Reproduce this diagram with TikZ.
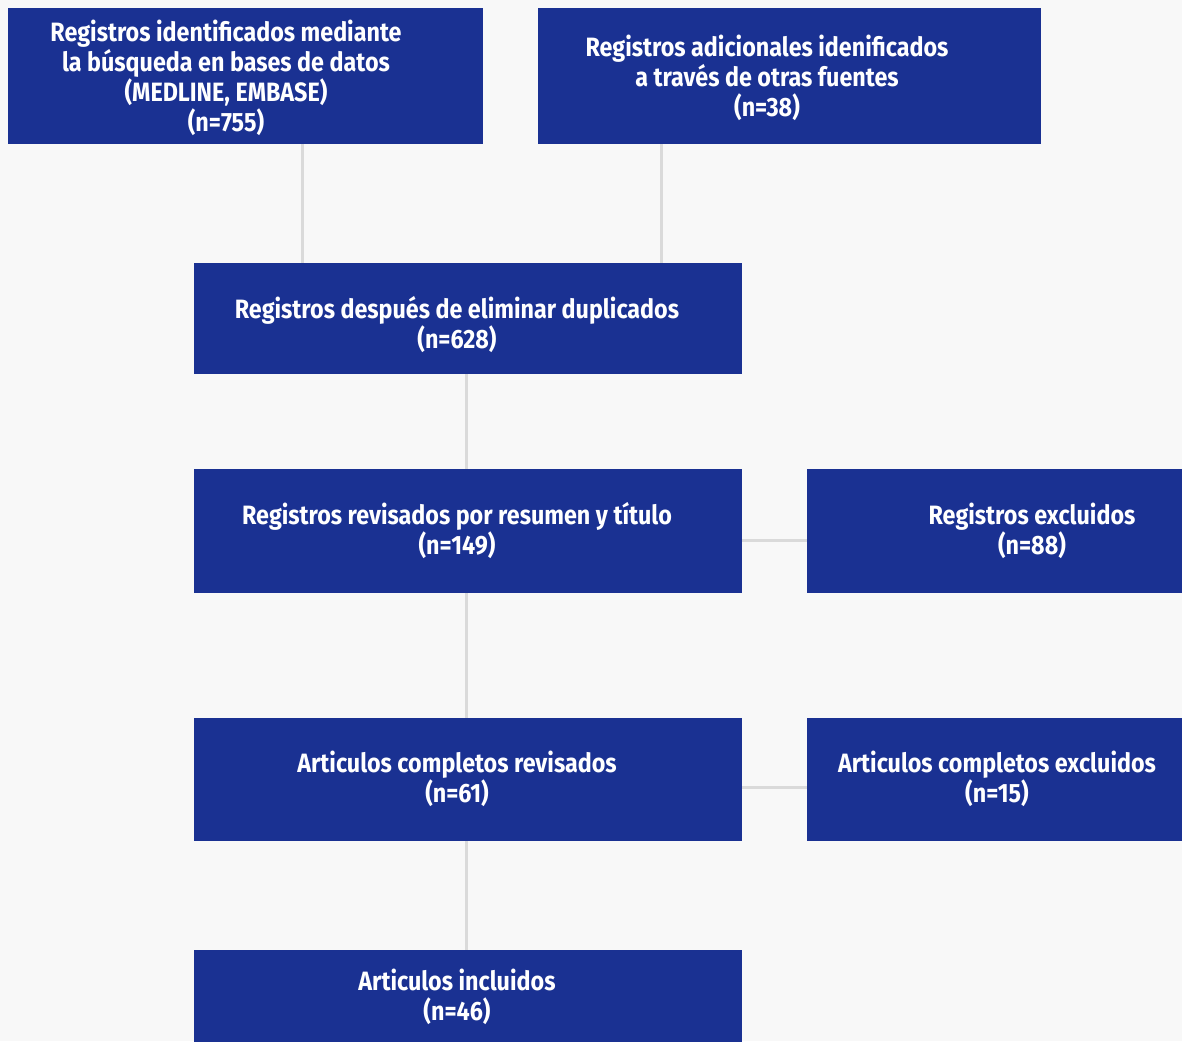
\documentclass[tikz,border=0pt]{standalone}
\usepackage{fontspec}
\setsansfont{Fira Sans}[FakeStretch=0.88]
\usepackage{tikz}
\definecolor{prismablue}{RGB}{26, 49, 146}
\definecolor{lgray}{RGB}{218, 218, 218}
\definecolor{bggray}{RGB}{248, 248, 248}

\tikzset{
  box/.style = {rectangle, fill = prismablue, inner sep = 0pt},
  boxtext/.style = {text = white, align = center, font = \sffamily\bfseries\fontsize{26.5}{30}\selectfont},
  link/.style = {draw = lgray, line width = 3pt}
}

\begin{document}
\begin{tikzpicture}[x = 1pt, y = -1pt]
			\fill[bggray] (0,0) rectangle (1182,1041);
			\useasboundingbox (0,0) rectangle (1182,1041);
			\node (ident) at (245.5,76) [box, minimum width = 475, minimum height = 136] {};
			\node (adic) at (789.5,76) [box, minimum width = 503, minimum height = 136] {};
			\node (dupl) at (468,318.5) [box, minimum width = 548, minimum height = 111] {};
			\node (revis) at (468,531) [box, minimum width = 548, minimum height = 124] {};
			\node (excl) at (998.5,531) [box, minimum width = 383, minimum height = 124] {};
			\node (compl) at (468,779.5) [box, minimum width = 548, minimum height = 123] {};
			\node (cexcl) at (998.5,779.5) [box, minimum width = 383, minimum height = 123] {};
			\node (incl) at (468,1000) [box, minimum width = 548, minimum height = 100] {};
			\node at (226,78) [boxtext] {Registros identificados mediante\\la búsqueda en bases de datos\\(MEDLINE, EMBASE)\\(n=755)};
			\node at (767,78) [boxtext] {Registros adicionales idenificados\\a través de otras fuentes\\(n=38)};
			\node at (457,325) [boxtext] {Registros después de eliminar duplicados\\(n=628)};
			\node at (457,531) [boxtext] {Registros revisados por resumen y título\\(n=149)};
			\node at (1032,531) [boxtext] {Registros excluidos\\(n=88)};
			\node at (457,779) [boxtext] {Articulos completos revisados\\(n=61)};
			\node at (997,779) [boxtext] {Articulos completos excluidos\\(n=15)};
			\node at (457,997) [boxtext] {Articulos incluidos\\(n=46)};
			\draw[link] ([xshift = 56.5]ident.south) -- ([xshift = 56.5]ident.south |- dupl.north);
			\draw[link] ([xshift = -128.5]adic.south) -- ([xshift = -128.5]adic.south |- dupl.north);
			\draw[link] ([xshift = -2]dupl.south) -- ([xshift = -2]revis.north);
			\draw[link] ([yshift = -9]revis.east) -- ([yshift = -9]excl.west);
			\draw[link] ([xshift = -2]revis.south) -- ([xshift = -2]compl.north);
			\draw[link] ([yshift = -7.5]compl.east) -- ([yshift = -7.5]cexcl.west);
			\draw[link] ([xshift = -2]compl.south) -- ([xshift = -2]incl.north);
			\end{tikzpicture}
\end{document}
